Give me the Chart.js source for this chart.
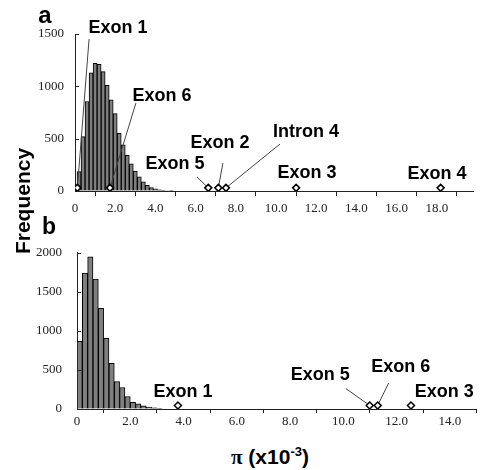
<!DOCTYPE html>
<html>
<head>
<meta charset="utf-8">
<script src="https://cdn.jsdelivr.net/npm/chart.js@4.4.1/dist/chart.umd.min.js"></script>
<style>
    body { margin: 0; background: #fff; width: 482px; height: 470px; overflow: hidden; position: relative; font-family: "Liberation Sans", Arial, sans-serif; }
    .wrap { position: absolute; left: 0; width: 482px; }
    #wrapA { top: 0; height: 225px; }
    #wrapB { top: 230px; height: 210px; }
    .lbl { position: absolute; font-weight: bold; color: #000; transform: translate(-50%, -50%); white-space: nowrap; }
    .lbl sup { font-size: 13px; }
</style>
</head>
<body>
<div id="wrapA" class="wrap"><canvas id="chartA" width="482" height="225"></canvas></div>
<div id="wrapB" class="wrap"><canvas id="chartB" width="482" height="210"></canvas></div>
<div class="lbl" style="left:45px;top:15px;font-size:24px;">a</div>
<div class="lbl" style="left:49px;top:226px;font-size:23px;">b</div>
<div class="lbl" style="left:23px;top:201px;font-size:21px;transform:translate(-50%,-50%) rotate(-90deg);">Frequency</div>
<div class="lbl" style="left:270px;top:457px;font-size:21px;"><span style="font-family:'Liberation Serif',serif;">π</span> (x10<sup>-3</sup>)</div>

<script>
// panel a: histogram of pi (x10^-3)
const binsA = [0.2, 0.4, 0.6, 0.8, 1.0, 1.2, 1.4, 1.6, 1.8, 2.0, 2.2, 2.4, 2.6, 2.8, 3.0, 3.2, 3.4, 3.6, 3.8, 4.0, 4.2, 4.4, 4.6, 4.8];
const countsA = [185, 520, 855, 1130, 1220, 1210, 1140, 1010, 870, 740, 550, 440, 340, 260, 190, 135, 88, 55, 33, 20, 12, 8, 5, 3];
const sitesA = ["Exon 1", "Exon 6", "Exon 5", "Exon 2", "Intron 4", "Exon 3", "Exon 4"];
const sitePiA = [0.12, 1.74, 6.63, 7.13, 7.51, 11.0, 18.19];
const siteFreqA = [30, 30, 30, 30, 30, 30, 30];
const xTicksA = [0, 2, 4, 6, 8, 10, 12, 14, 16, 18];
const yTicksA = [0, 500, 1000, 1500];

// panel b
const binsB = [0.1, 0.3, 0.5, 0.7, 0.9, 1.1, 1.3, 1.5, 1.7, 1.9, 2.1, 2.3, 2.5, 2.7, 2.9, 3.1];
const countsB = [865, 1740, 1950, 1665, 1290, 905, 585, 350, 275, 160, 85, 65, 42, 25, 15, 10];
const sitesB = ["Exon 1", "Exon 5", "Exon 6", "Exon 3"];
const sitePiB = [3.79, 10.99, 11.29, 12.54];
const siteFreqB = [45, 45, 45, 45];
const xTicksB = [0, 2, 4, 6, 8, 10, 12, 14];
const yTicksB = [0, 500, 1000, 1500, 2000];

// where each callout text sits and where its leader line starts (data units)
const calloutsA = [
    { text: [2.14, 1557], line: [0.70, 1452] },
    { text: [4.33, 907], line: [3.03, 840] },
    { text: [4.98, 258], line: [6.07, 134] },
    { text: [7.21, 458], line: [7.36, 267] },
    { text: [11.49, 563], line: [10.2, 449] },
    { text: [11.54, 172], line: null },
    { text: [18.01, 162], line: null }
];
const calloutsB = [
    { text: [3.98, 220], line: null },
    { text: [9.13, 429], line: [10.09, 263] },
    { text: [12.16, 533], line: [11.70, 333] },
    { text: [13.79, 220], line: null }
];

function makeCallouts(names, px, py, placement)
{
    return {
        id: "callouts",
        afterDatasetDraw(chart, args) {
            if (args.meta.type !== "bar") return;
            const x = chart.scales.x, y = chart.scales.y, ctx = chart.ctx;
            ctx.save();
            ctx.strokeStyle = "#444";
            ctx.lineWidth = 1;
            placement.forEach((p, i) => {
                if (!p.line) return;
                ctx.beginPath();
                ctx.moveTo(x.getPixelForValue(p.line[0]), y.getPixelForValue(p.line[1]));
                ctx.lineTo(x.getPixelForValue(px[i]), y.getPixelForValue(py[i]));
                ctx.stroke();
            });
            ctx.restore();
        },
        afterDraw(chart) {
            const x = chart.scales.x, y = chart.scales.y, ctx = chart.ctx;
            const left = chart.chartArea.left;
            ctx.save();
            // inward ticks on the y axis
            ctx.strokeStyle = "#222";
            ctx.lineWidth = 1;
            y.ticks.forEach((t) => {
                const yy = Math.round(y.getPixelForValue(t.value)) + 0.5;
                ctx.beginPath();
                ctx.moveTo(left, yy);
                ctx.lineTo(left + 4, yy);
                ctx.stroke();
            });
            ctx.fillStyle = "#000";
            ctx.font = "bold 18px 'Liberation Sans', Arial, sans-serif";
            ctx.textAlign = "center";
            ctx.textBaseline = "middle";
            placement.forEach((p, i) => {
                ctx.fillText(names[i], x.getPixelForValue(p.text[0]), y.getPixelForValue(p.text[1]));
            });
            ctx.restore();
        }
    };
}

function renderPanel(canvasId, bins, counts, names, px, py, xTicks, yTicks, xMax, yMax, geo, placement)
{
    const ctx = document.getElementById(canvasId).getContext("2d");
    new Chart(ctx, {
        type: "bar",
        data: {
            datasets: [
                {
                    type: "scatter",
                    data: px.map((v, i) => ({ x: v, y: py[i] })),
                    pointStyle: "rectRot",
                    pointRadius: 3.5,
                    backgroundColor: "#fff",
                    borderColor: "#000",
                    borderWidth: 1.5,
                    order: 0
                },
                {
                    data: bins.map((b, i) => ({ x: b, y: counts[i] })),
                    backgroundColor: "#7f7f7f",
                    borderColor: "#000",
                    borderWidth: 1,
                    barPercentage: 1,
                    categoryPercentage: 1,
                    order: 1
                }
            ]
        },
        options: {
            responsive: false,
            animation: false,
            layout: { padding: { top: geo.top, right: geo.right, left: 0, bottom: 0 } },
            plugins: { legend: { display: false }, tooltip: { enabled: false } },
            scales: {
                x: {
                    type: "linear",
                    min: 0,
                    max: xMax,
                    offset: false,
                    afterBuildTicks: (s) => { s.ticks = xTicks.map((v) => ({ value: v })); },
                    afterFit: (s) => { s.height = geo.xh; },
                    border: { color: "#222", width: 1 },
                    grid: { drawOnChartArea: false, drawTicks: true, tickLength: geo.tl, color: "#222" },
                    ticks: {
                        padding: geo.xp,
                        color: "#222",
                        font: { family: "'Liberation Serif', 'Times New Roman', serif", size: 13 },
                        maxRotation: 0,
                        autoSkip: false,
                        callback: (v) => (v === 0 ? "0" : Number(v).toFixed(1))
                    }
                },
                y: {
                    min: 0,
                    max: yMax,
                    afterBuildTicks: (s) => { s.ticks = yTicks.map((v) => ({ value: v })); },
                    afterFit: (s) => { s.width = geo.yw; },
                    border: { color: "#222", width: 1 },
                    grid: { drawOnChartArea: false, drawTicks: false },
                    ticks: {
                        padding: geo.yp,
                        color: "#222",
                        font: { family: "'Liberation Serif', 'Times New Roman', serif", size: 13 },
                        callback: (v) => String(v)
                    }
                }
            }
        },
        plugins: [makeCallouts(names, px, py, placement)]
    });
}

renderPanel("chartA", binsA, countsA, sitesA, sitePiA, siteFreqA, xTicksA, yTicksA, 19.8, 1500,
    { top: 34, right: 9, xh: 34, yw: 75, yp: 11, tl: 5, xp: 5 }, calloutsA);
renderPanel("chartB", binsB, countsB, sitesB, sitePiB, siteFreqB, xTicksB, yTicksB, 15, 2000,
    { top: 19, right: 1, xh: 31, yw: 77, yp: 15, tl: 4, xp: 1 }, calloutsB);
</script>
</body>
</html>
